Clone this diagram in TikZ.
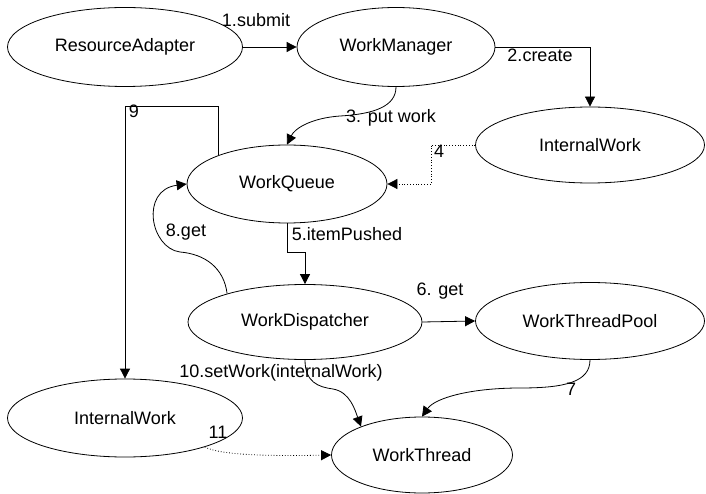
\documentclass[tikz,border=0pt]{standalone}
\usepackage{fontspec}
\setmainfont{Liberation Sans}
\usetikzlibrary{shapes.geometric,arrows.meta}

\tikzset{
  obj/.style={ellipse, draw, line width=0.8bp, inner sep=0pt, font=\fontsize{18bp}{20bp}\selectfont},
  conn/.style={line width=0.8bp, -{Triangle[length=10bp,width=10bp]}},
  dotconn/.style={conn, dotted},
  lbl/.style={anchor=base, inner sep=0pt, font=\fontsize{18bp}{20bp}\selectfont},
}

\begin{document}
\begin{tikzpicture}[x=1bp, y=-1bp]
\useasboundingbox (0,0) rectangle (706,494);

% objects
\node[obj, minimum width=235bp, minimum height=79bp] (ra)  at (125,47)  {ResourceAdapter};
\node[obj, minimum width=198bp, minimum height=79bp] (wm)  at (396,47)  {WorkManager};
\node[obj, minimum width=229bp, minimum height=76bp] (iwa) at (590,145) {InternalWork};
\node[obj, minimum width=200bp, minimum height=78bp] (wq)  at (287,184) {WorkQueue};
\node[obj, minimum width=234bp, minimum height=75bp] (wd)  at (305,322) {WorkDispatcher};
\node[obj, minimum width=229bp, minimum height=77bp] (wtp) at (590,321) {WorkThreadPool};
\node[obj, minimum width=235bp, minimum height=78bp] (iwb) at (125,418) {InternalWork};
\node[obj, minimum width=181bp, minimum height=76bp] (wt)  at (422,455) {WorkThread};

% bend points of the curved and elbow connectors
\coordinate (k3)  at (340,116);
\coordinate (k7)  at (520,388);
\coordinate (k8)  at (180,252);
\coordinate (k9)  at (125,106);
\coordinate (k10) at (333,389);

% 1. submit
\draw[conn] (ra.east) -- (wm.west);
% 2. create
\draw[conn] (wm.east) -| (iwa.north);
% 3. put work
\draw[conn] (wm.south) .. controls (396,106) and (375,114) .. (k3)
            .. controls (312,118) and (295,128) .. (wq.north);
% 4
\draw[dotconn] (iwa.west) -- ++(-44,0) |- (wq.east);
% 5. itemPushed
\draw[conn] (wq.south) -- ++(0,29) -| (wd.north);
% 6. get
\draw[conn] (wd.east) -- (wtp.west);
% 7
\draw[conn] (wtp.south) .. controls (590,382) and (565,388) .. (k7)
            .. controls (470,388) and (435,398) .. (wt.north);
% 8. get
\draw[conn] (wd.160) .. controls (224,268) and (205,254) .. (k8)
            .. controls (150,248) and (140,190) .. (wq.west);
% 9
\draw[conn] (wq.157.5) |- (k9) -- (iwb.north);
% 10. setWork
\draw[conn] (wd.south) .. controls (305,382) and (318,387) .. (k10)
            .. controls (350,392) and (355,410) .. (wt.155);
% 11
\draw[dotconn] (iwb.-20) .. controls (222,456) and (280,456) .. (wt.west);

% labels
\node[lbl] (l1)  at (256,27)  {1.submit};
\node[lbl] (l2)  at (540,62)  {2.create};
\node[lbl] (l3)  at (391,123) {3. put work};
\node[lbl] (l4)  at (439,158) {4};
\node[lbl] (l5)  at (347,241) {5.itemPushed};
\node[lbl] (l6)  at (440,295) {6. get};
\node[lbl] (l7)  at (571,395) {7};
\node[lbl] (l8)  at (186,237) {8.get};
\node[lbl] (l9)  at (134,118) {9};
\node[lbl] (l10) at (281,377) {10.setWork(internalWork)};
\node[lbl] (l11) at (218,438) {11};
\end{tikzpicture}
\end{document}
